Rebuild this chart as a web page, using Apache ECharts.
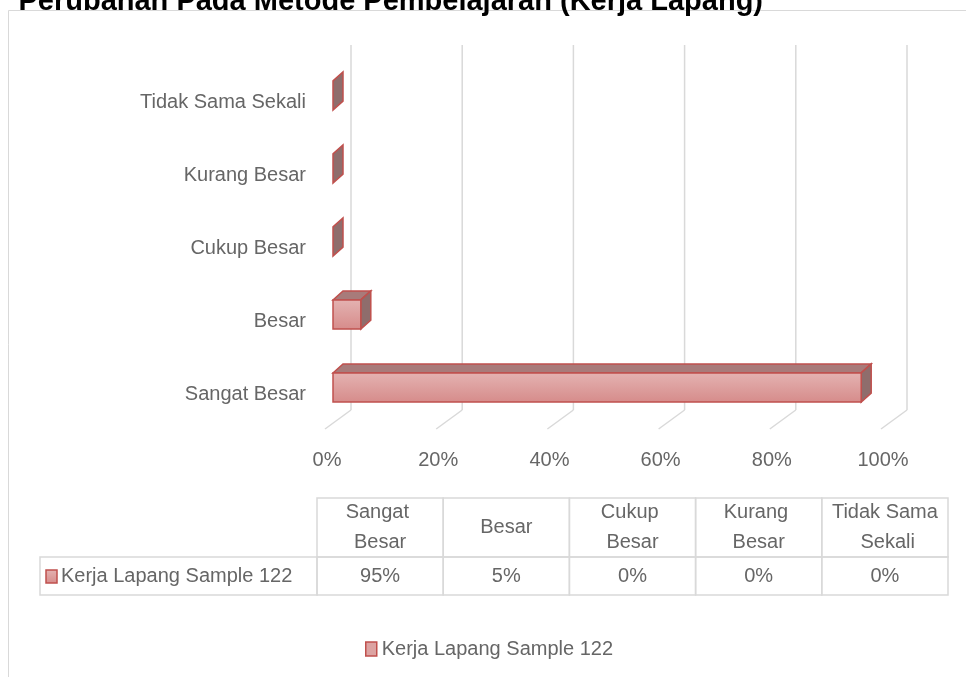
<!DOCTYPE html>
<html><head><meta charset="utf-8">
<script src="https://cdn.jsdelivr.net/npm/echarts@6/dist/echarts.min.js"></script>
<style>html,body{margin:0;padding:0;background:#fff}#c{width:966px;height:677px}</style>
</head><body><div id="c"></div>
<script>
// ---- data ----
const titleText = 'Perubahan Pada Metode Pembelajaran (Kerja Lapang)';
const seriesName = 'Kerja Lapang Sample 122';
const categories = ['Sangat Besar', 'Besar', 'Cukup Besar', 'Kurang Besar', 'Tidak Sama Sekali'];
const values = [95, 5, 0, 0, 0];
const xTicks = [0, 20, 40, 60, 80, 100];

// ---- style ----
const FONT = '"Liberation Sans", Arial, sans-serif';
const TXT = '#666666';
const GRIDC = '#d9d9d9';
const RED = '#c0504d';
const G = { left: 327, width: 556, top: 65.5, height: 365 };
const DX = 10, DY = 9, FRONT = 6, YSHIFT = -6.5, BACK = 24, BACKDY = 20.5, FLOORDY = -1.5, FLOORX = -2;

const chart = echarts.init(document.getElementById('c'), null, { renderer: 'canvas' });

const frontFill = new echarts.graphic.LinearGradient(0, 0, 0, 1, [
  { offset: 0, color: '#e4b3b2' }, { offset: 1, color: '#d68b8a' }
]);

function barItem(params, api) {
  const v = api.value(0), ci = api.value(1);
  const p0 = api.coord([0, ci]), p1 = api.coord([v, ci]);
  const bh = api.size([0, 1])[1] * 0.4;
  const yc = p0[1] + YSHIFT;
  const x0 = p0[0] + FRONT, x1 = p1[0] + FRONT, yT = yc - bh / 2, yB = yc + bh / 2;
  const children = [];
  if (x1 - x0 > 0.5) {
    children.push({ type: 'polygon', shape: { points: [[x0, yT], [x1, yT], [x1 + DX, yT - DY], [x0 + DX, yT - DY]] },
      style: { fill: '#a87b7a', stroke: RED, lineWidth: 1.5 } });
  }
  children.push({ type: 'polygon', shape: { points: [[x1, yT], [x1 + DX, yT - DY], [x1 + DX, yB - DY], [x1, yB]] },
    style: { fill: '#8f6d6c', stroke: RED, lineWidth: 1.5 } });
  if (x1 - x0 > 0.5) {
    children.push({ type: 'rect', shape: { x: x0, y: yT, width: x1 - x0, height: bh },
      style: { fill: frontFill, stroke: RED, lineWidth: 1.5 } });
  }
  return { type: 'group', children };
}

function gridItem(params, api) {
  const cs = params.coordSys;
  const x = api.coord([api.value(0), 0])[0];
  const bx = x + BACK, top = cs.y - BACKDY, bot = cs.y + cs.height - BACKDY;
  return { type: 'group', children: [
    { type: 'line', shape: { x1: bx, y1: top, x2: bx, y2: bot }, style: { stroke: GRIDC, lineWidth: 1.5 } },
    { type: 'line', shape: { x1: bx, y1: bot, x2: x + FLOORX, y2: cs.y + cs.height + FLOORDY }, style: { stroke: GRIDC, lineWidth: 1.5 } }
  ] };
}

// ---- data table built from arrays ----
const T = { left: 317, colW: 126.2, top: 498, mid: 557, bottom: 595, serLeft: 40 };
const tableEls = [];
categories.forEach((c, i) => {
  const x = T.left + i * T.colW;
  tableEls.push({ type: 'rect', shape: { x: x, y: T.top, width: T.colW, height: T.mid - T.top },
    style: { fill: 'none', stroke: GRIDC, lineWidth: 1.5 } });
  tableEls.push({ type: 'rect', shape: { x: x, y: T.mid, width: T.colW, height: T.bottom - T.mid },
    style: { fill: 'none', stroke: GRIDC, lineWidth: 1.5 } });
  tableEls.push({ type: 'text', x: x + T.colW / 2, y: (T.top + T.mid) / 2,
    style: { text: c, width: 112, overflow: 'break', align: 'center', verticalAlign: 'middle',
      font: '20px ' + FONT, fill: TXT, lineHeight: 30 } });
  tableEls.push({ type: 'text', x: x + T.colW / 2, y: (T.mid + T.bottom) / 2,
    style: { text: values[i] + '%', align: 'center', verticalAlign: 'middle', font: '20px ' + FONT, fill: TXT } });
});
tableEls.push({ type: 'rect', shape: { x: T.serLeft, y: T.mid, width: T.left - T.serLeft, height: T.bottom - T.mid },
  style: { fill: 'none', stroke: GRIDC, lineWidth: 1.5 } });
tableEls.push({ type: 'rect', shape: { x: T.serLeft + 6, y: (T.mid + T.bottom) / 2 - 6, width: 11, height: 13 },
  style: { fill: frontFill, stroke: RED, lineWidth: 1.5 } });
tableEls.push({ type: 'text', x: T.serLeft + 21, y: (T.mid + T.bottom) / 2,
  style: { text: seriesName, align: 'left', verticalAlign: 'middle', font: '20px ' + FONT, fill: TXT } });

chart.setOption({
  animation: false,
  backgroundColor: '#fff',
  grid: { left: G.left, width: G.width, top: G.top, height: G.height, containLabel: false },
  xAxis: {
    type: 'value', min: 0, max: 100, interval: 20,
    axisLine: { show: false }, axisTick: { show: false }, splitLine: { show: false },
    axisLabel: { formatter: '{value}%', margin: 20, fontSize: 20, fontFamily: FONT, color: TXT }
  },
  yAxis: {
    type: 'category', data: categories,
    axisLine: { show: false }, axisTick: { show: false }, splitLine: { show: false },
    axisLabel: { margin: 21, fontSize: 20, fontFamily: FONT, color: TXT }
  },
  legend: {
    data: [{ name: seriesName, icon: 'rect', itemStyle: { color: '#dca3a2', borderColor: RED, borderWidth: 1.5 } }],
    left: 360, top: 634, itemWidth: 11, itemHeight: 14,
    textStyle: { fontSize: 20, fontFamily: FONT, color: TXT }
  },
  graphic: [
    { type: 'rect', shape: { x: 8.5, y: 10.5, width: 1000, height: 1000 }, style: { fill: 'none', stroke: GRIDC, lineWidth: 1 }, z: 0 },
    { type: 'text', x: 763, y: 2, style: { text: titleText, align: 'right', verticalAlign: 'middle', font: 'bold 29px ' + FONT, fill: '#000' } },
    { type: 'group', children: tableEls }
  ],
  series: [
    { type: 'custom', name: '_grid', renderItem: gridItem, clip: false, silent: true, z: 1,
      encode: { x: 0, y: 1 }, data: xTicks.map(t => [t, 0]) },
    { type: 'custom', name: seriesName, renderItem: barItem, clip: false, z: 3,
      itemStyle: { color: '#dca3a2', borderColor: RED },
      encode: { x: 0, y: 1 }, data: values.map((v, i) => [v, i]) }
  ]
});
</script></body></html>
